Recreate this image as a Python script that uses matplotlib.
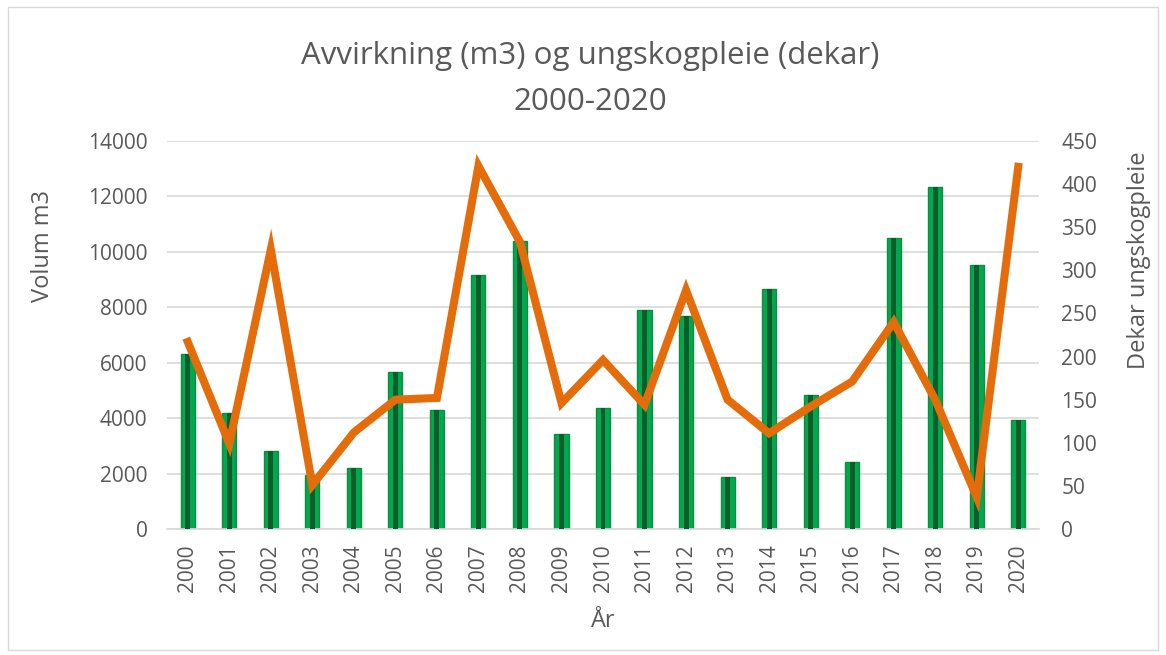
import numpy as np
import matplotlib.pyplot as plt
from matplotlib.patches import Rectangle

# Data
years = [str(y) for y in range(2000, 2021)]
volum_m3 = [6300, 4200, 2800, 1950, 2200, 5650, 4300, 9150, 10380, 3430, 4380,
            7900, 7700, 1880, 8660, 4830, 2400, 10500, 12350, 9530, 3930]
dekar = [217, 99, 324, 51, 112, 150, 152, 421, 333, 146, 196,
         144, 277, 150, 111, 142, 171, 240, 150, 37, 420]

grey = '#595959'
plt.rcParams['font.family'] = ['Open Sans', 'DejaVu Sans']

W, H = 1166, 655
fig = plt.figure(figsize=(W / 100, H / 100), dpi=100)
ax = fig.add_axes([167 / W, 1 - 529 / H, (1039 - 167) / W, (529 - 141) / H])

x = np.arange(len(years))

# Bars: outer green with darker centre stripe
ax.bar(x, volum_m3, width=0.34, color='#00a94f', edgecolor='#138a3e', linewidth=1.0, zorder=2)
ax.bar(x, volum_m3, width=0.12, color='#0b5e2a', linewidth=0, zorder=3)

ax.set_ylim(0, 14000)
ax.set_yticks(range(0, 14001, 2000))
ax.set_xlim(-0.5, len(years) - 0.5)
ax.set_xticks(x)
ax.set_xticklabels(years, rotation=90)
ax.yaxis.grid(True, color='#d9d9d9', linewidth=1.2, zorder=0)
ax.set_axisbelow(True)
for s in ['top', 'left', 'right']:
    ax.spines[s].set_visible(False)
ax.spines['bottom'].set_color('#d9d9d9')
ax.spines['bottom'].set_linewidth(1.2)
ax.tick_params(axis='y', length=0, labelsize=15, colors=grey, pad=14)
ax.tick_params(axis='x', length=0, labelsize=15, colors=grey, pad=11)
ax.set_ylabel('Volum m3', fontsize=17, color=grey)
ax.yaxis.set_label_coords(-0.128, 0.729)
ax.set_xlabel('År', fontsize=17, color=grey, labelpad=12)

# Line on secondary axis
ax2 = ax.twinx()
ax2.plot(x, dekar, color='#e46c0a', linewidth=5.8, solid_joinstyle='miter', zorder=5)
ax2.set_ylim(0, 450)
ax2.set_yticks(range(0, 451, 50))
for s in ['top', 'left', 'right', 'bottom']:
    ax2.spines[s].set_visible(False)
ax2.tick_params(axis='y', length=0, labelsize=15, colors=grey, pad=16)
ax2.set_ylabel('Dekar ungskogpleie', fontsize=17, color=grey)
ax2.yaxis.set_label_coords(1.101, 0.693)

# Title, two lines
fig.text(0.506, 1 - 64 / H, 'Avvirkning (m3) og ungskogpleie (dekar)',
         ha='center', va='baseline', fontsize=22.5, color=grey)
fig.text(0.506, 1 - 110 / H, '2000-2020',
         ha='center', va='baseline', fontsize=22.5, color=grey)

# Chart border
fig.patches.append(Rectangle((8 / W, 5 / H), 1150 / W, 643 / H,
                             transform=fig.transFigure, fill=False,
                             edgecolor='#d9d9d9', linewidth=1))

fig.savefig('out.png', dpi=100)
